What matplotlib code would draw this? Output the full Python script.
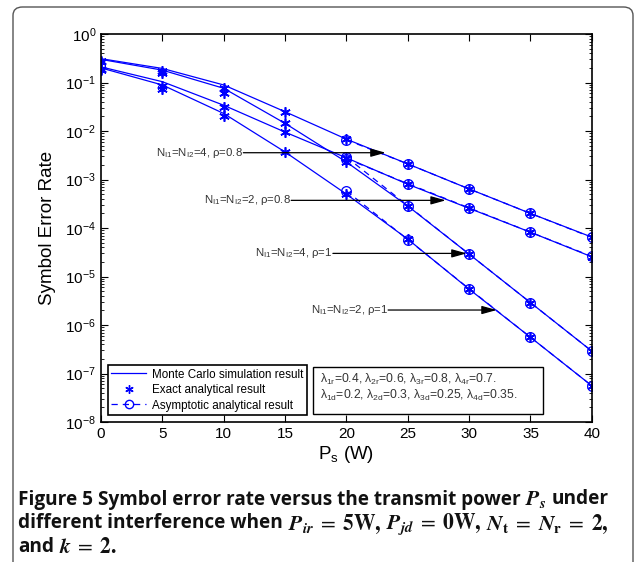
import numpy as np
import matplotlib
matplotlib.use('Agg')
import matplotlib.pyplot as plt
from matplotlib.lines import Line2D
from matplotlib.patches import Rectangle, FancyBboxPatch

plt.rcParams['font.family'] = ['Liberation Sans', 'DejaVu Sans']

# ============================== Data =========================================
P = [0, 5, 10, 15, 20, 25, 30, 35, 40]
P_asy = [20, 25, 30, 35, 40]

# N_I1=N_I2=4, rho=0.8
mc_a = [0.31, 0.195, 0.089, 0.025, 0.0068, 0.0021, 6.4e-4, 2.0e-4, 6.5e-5]
ex_a = [0.28, 0.17, 0.076, 0.025, 0.0070, 0.0021, 6.4e-4, 2.0e-4, 6.5e-5]
as_a = [0.0066, 0.0021, 6.4e-4, 2.0e-4, 6.4e-5]
# N_I1=N_I2=4, rho=1
mc_c = [0.30, 0.18, 0.076, 0.0144, 0.0023, 2.85e-4, 2.9e-5, 2.9e-6, 2.9e-7]
ex_c = [0.27, 0.157, 0.060, 0.0144, 0.0023, 2.85e-4, 2.9e-5, 2.9e-6, 2.9e-7]
as_c = [0.0029, 2.9e-4, 2.9e-5, 2.9e-6, 2.9e-7]
# N_I1=N_I2=2, rho=0.8
mc_b = [0.21, 0.104, 0.034, 0.0095, 0.0028, 8.0e-4, 2.55e-4, 8.2e-5, 2.55e-5]
ex_b = [0.19, 0.085, 0.0316, 0.0095, 0.0028, 8.0e-4, 2.55e-4, 8.2e-5, 2.55e-5]
as_b = [0.0027, 8.2e-4, 2.6e-4, 8.2e-5, 2.6e-5]
# N_I1=N_I2=2, rho=1
mc_d = [0.20, 0.089, 0.023, 0.0037, 5.0e-4, 5.9e-5, 5.5e-6, 5.6e-7, 5.6e-8]
ex_d = [0.18, 0.073, 0.0206, 0.0037, 5.0e-4, 5.9e-5, 5.5e-6, 5.6e-7, 5.6e-8]
as_d = [5.8e-4, 5.8e-5, 5.6e-6, 5.6e-7, 5.6e-8]

labels = [r'N$_\mathdefault{I1}$=N$_\mathdefault{I2}$=4, ρ=0.8',
          r'N$_\mathdefault{I1}$=N$_\mathdefault{I2}$=2, ρ=0.8',
          r'N$_\mathdefault{I1}$=N$_\mathdefault{I2}$=4, ρ=1',
          r'N$_\mathdefault{I1}$=N$_\mathdefault{I2}$=2, ρ=1']
lab_start = [11.6, 15.5, 18.9, 23.4]
lab_tip = [23.2, 28.1, 29.8, 32.25]
lab_y = [3.57e-3, 3.72e-4, 3.0e-5, 2.04e-6]

lam_r = r'λ$_\mathdefault{1r}$=0.4, λ$_\mathdefault{2r}$=0.6, λ$_\mathdefault{3r}$=0.8, λ$_\mathdefault{4r}$=0.7.'
lam_d = r'λ$_\mathdefault{1d}$=0.2, λ$_\mathdefault{2d}$=0.3, λ$_\mathdefault{3d}$=0.25, λ$_\mathdefault{4d}$=0.35.'

# caption pieces: (text, is_math)
cap = [[('Figure 5', 0), ('Symbol error rate versus the transmit power', 0),
        (r'$\mathbfit{P_s}$', 1), ('under', 0)],
       [('different interference when', 0),
        (r'$\mathbfit{P_{ir}}\;=\;\mathbf{5W,}$', 1),
        (r'$\mathbfit{P_{jd}}\;=\;\mathbf{0W,}$', 1),
        (r'$\mathbfit{N}_{\mathbf{t}}\;=\;\mathbfit{N}_{\mathbf{r}}\;=\;\mathbf{2,}$', 1)],
       [('and', 0), (r'$\mathbfit{k}\;=\;\mathbf{2.}$', 1)]]
cap_y = [497, 521, 545]

# ============================== Plot =========================================
fig = plt.figure(figsize=(6.35, 5.62), dpi=100)
ax = fig.add_axes([0.159, 0.249, 0.773, 0.6905])

blue = '#0000ff'
star = (6, 2, 0)
for mc, ex, asy in [(mc_a, ex_a, as_a), (mc_c, ex_c, as_c),
                    (mc_b, ex_b, as_b), (mc_d, ex_d, as_d)]:
    ax.plot(P, mc, color=blue, lw=0.9)
    ax.plot(P, ex, ls='none', marker=star, ms=7.5, mec=blue, mew=1.2)
    ax.plot(P_asy, asy, color=blue, lw=0.9, ls=(0, (5, 4)),
            marker='o', ms=7, mfc='none', mec=blue, mew=0.9)

for lab, x0, x1, y in zip(labels, lab_start, lab_tip, lab_y):
    ax.text(x0, y, lab, ha='right', va='center', fontsize=8.2, color='#333333')
    ax.annotate('', xy=(x1, y), xytext=(x0, y),
                arrowprops=dict(arrowstyle='-|>,head_length=0.9,head_width=0.25',
                                color='black', lw=0.9, shrinkA=0, shrinkB=0))

ax.set_yscale('log')
ax.set_xlim(0, 40)
ax.set_ylim(1e-8, 1)
ax.set_xticks(range(0, 41, 5))
ax.set_yticks([10.0**k for k in range(-8, 1)])
ax.tick_params(which='both', direction='in', top=True, right=True,
               labelsize=11)
ax.tick_params(which='major', length=5)
ax.tick_params(which='minor', length=2.5)
for s in ax.spines.values():
    s.set_linewidth(1.2)

ax.set_xlabel(r'P$_\mathdefault{s}$ (W)', fontsize=13.5, labelpad=2)
ax.set_ylabel('Symbol Error Rate', fontsize=13.5, labelpad=7)

handles = [Line2D([], [], color=blue, lw=0.9),
           Line2D([], [], ls='none', marker=star, ms=6, mec=blue, mew=1.0),
           Line2D([], [], color=blue, lw=0.9, ls=(0, (5, 4)), marker='o',
                  ms=6, mfc='none', mec=blue)]
leg = ax.legend(handles, ['Monte Carlo simulation result',
                          'Exact analytical result',
                          'Asymptotic analytical result'],
                loc='lower left', bbox_to_anchor=(0.014, 0.018),
                borderaxespad=0, fontsize=8.4, fancybox=False, framealpha=1,
                handlelength=3.0, labelspacing=0.3, borderpad=0.3,
                handletextpad=0.5)
leg.get_frame().set_edgecolor('black')
leg.get_frame().set_linewidth(1.2)

ax.add_patch(Rectangle((0.432, 0.0206), 0.468, 0.1212, transform=ax.transAxes,
                       fc='white', ec='black', lw=1.0, zorder=4))
ax.text(0.446, 0.111, lam_r, transform=ax.transAxes, fontsize=8.7,
        color='#333333', va='center', zorder=5)
ax.text(0.446, 0.0696, lam_d, transform=ax.transAxes, fontsize=8.7,
        color='#333333', va='center', zorder=5)

# ============================== Frame & caption ==============================
W, H = 635.0, 562.0
fig.patches.append(FancyBboxPatch((13 / W, -0.05), 620 / W, (562 - 7) / H + 0.05,
                                  boxstyle='round,pad=0,rounding_size=0.015',
                                  transform=fig.transFigure, fc='none',
                                  ec='#555555', lw=1.0))

renderer = fig.canvas.get_renderer()
txt_size, math_size, gap = 13.7, 15.5, 4.8
for line, y in zip(cap, cap_y):
    x = 18.0
    for s, is_math in line:
        t = fig.text(x / W, 1 - y / H, s, va='center_baseline', ha='left',
                     fontsize=math_size if is_math else txt_size,
                     fontweight='bold', family=['Open Sans', 'DejaVu Sans'],
                     color='#111111')
        t.set_math_fontfamily('stix')
        x = t.get_window_extent(renderer).x1 + gap

fig.savefig('out.png', dpi=100)
